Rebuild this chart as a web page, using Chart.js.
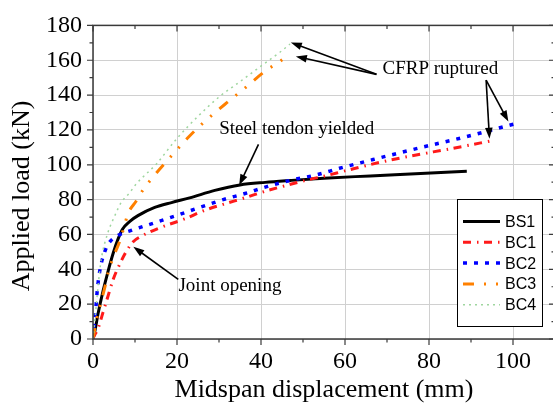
<!DOCTYPE html>
<html>
<head>
<meta charset="utf-8">
<script src="https://cdn.jsdelivr.net/npm/chart.js@4.4.1/dist/chart.umd.min.js"></script>
<style>
  html, body { margin: 0; padding: 0; background: #fff; overflow: hidden; }
  #wrap { width: 560px; height: 409px; }
</style>
</head>
<body>
<div id="wrap"><canvas id="chart" width="560" height="409"></canvas></div>
<script>
// Load vs midspan displacement
const dispBS1 = [0, 0.4, 1.2, 2.4, 3.6, 4.8, 6, 7.1, 8.7, 10.7, 14.7, 18.7, 23, 29, 35, 41, 47, 55, 66, 78, 89];
const loadBS1 = [0, 4, 14.5, 27.6, 39, 49.2, 57.6, 63.3, 67.4, 70.8, 75.5, 78.3, 81, 85.3, 88.4, 89.9, 91, 92.3, 93.6, 95, 96.3];

const dispBC1 = [0, 0.2, 1.2, 2.4, 3.6, 4.8, 6.3, 7.9, 9.5, 11.9, 16.3, 21.8, 26.3, 31, 36.2, 41, 45.8, 50.5, 55.6, 60, 70, 81, 88, 94.5];
const loadBC1 = [0, 1.3, 6, 15.4, 24.8, 34.2, 42.6, 50.1, 55.7, 59.5, 64.2, 68.9, 73.6, 77.3, 81.1, 84.8, 88, 91, 93.8, 96.5, 102.3, 107.4, 110.5, 113.6];

const dispBC2 = [0, 0.2, 0.6, 1, 1.6, 2.8, 3.7, 6, 9.1, 13.9, 19.8, 24.2, 31, 36.2, 41.6, 47.6, 53.2, 58.7, 66.7, 77.9, 89, 100.1];
const loadBC2 = [0, 6.9, 15.4, 27.6, 38.9, 50.1, 54.8, 59.5, 62.3, 66.1, 70.8, 74.5, 80, 83.5, 87.6, 91.4, 94.2, 98, 103, 109.8, 116.2, 123.3];

const dispBC3 = [0, 0.8, 1.8, 2.8, 3.7, 5.2, 6.3, 7.5, 8.3, 10.3, 11.7, 14.4, 19.5, 22.7, 25.9, 31.8, 35.4, 41.3, 44.5, 46.9];
const loadBC3 = [0, 10.7, 20, 29.5, 38.9, 49.2, 55.7, 65.1, 71.7, 79.2, 84.8, 93.3, 107.3, 115.8, 123.3, 135.5, 142.5, 154.3, 159.3, 163.7];

const dispBC4 = [0, 0.5, 1, 1.5, 2, 3.6, 5.2, 6.7, 8.7, 10.3, 15.2, 19.9, 24.7, 30.2, 35, 39.7, 44.5, 46.9];
const loadBC4 = [0, 12, 25, 37, 46.3, 61.4, 70.8, 78.3, 83.9, 89, 100.8, 114.9, 127.1, 139.3, 147.7, 156.1, 164.6, 169.3];

const seriesNames = ['BS1', 'BC1', 'BC2', 'BC3', 'BC4'];
const xTicks = [0, 20, 40, 60, 80, 100];
const yTicks = [0, 20, 40, 60, 80, 100, 120, 140, 160, 180];

const xTitle = 'Midspan displacement (mm)';
const yTitle = 'Applied load (kN)';

// callouts, in data units
const notes = [
    { text: 'CFRP ruptured', x: 82.7, y: 155.2 },
    { text: 'Steel tendon yielded', x: 48.5, y: 120.5 },
    { text: 'Joint opening', x: 32.6, y: 30.4 }
];
const arrows = [
    [67.5, 151.9, 47.1, 170.2],
    [67.5, 151.9, 48.3, 162.2],
    [93.6, 148.6, 94.4, 114.9],
    [93.6, 148.6, 98.9, 124.8],
    [39.4, 111.7, 34.8, 88.2],
    [20.3, 34.2, 9.6, 52.9]
];

const serif = 'Liberation Serif';
const sans = 'Liberation Sans';

Chart.defaults.font.family = serif;
Chart.defaults.color = '#000';

const styles = [
    { color: '#000000', width: 3, dash: [] },
    { color: '#ff1a1a', width: 3, dash: [8, 6, 1.5, 5.5] },
    { color: '#0000ff', width: 3.5, dash: [4, 7] },
    { color: '#ff8000', width: 3, dash: [11, 10, 2, 10, 2, 10] },
    { color: '#9fd69f', width: 1.5, dash: [2, 4] }
];

const allX = [dispBS1, dispBC1, dispBC2, dispBC3, dispBC4];
const allY = [loadBS1, loadBC1, loadBC2, loadBC3, loadBC4];

const datasets = seriesNames.map((name, i) => ({
    label: name,
    data: allX[i].map((x, j) => ({ x: x, y: allY[i][j] })),
    borderColor: styles[i].color,
    borderWidth: styles[i].width,
    borderDash: styles[i].dash,
    borderCapStyle: 'butt',
    pointRadius: 0,
    showLine: true,
    fill: false,
    cubicInterpolationMode: 'monotone',
    order: seriesNames.length - 1 - i
}));

function drawArrow(ctx, x1, y1, x2, y2) {
    const ang = Math.atan2(y2 - y1, x2 - x1);
    const len = 11, half = 3.8;
    ctx.beginPath();
    ctx.moveTo(x1, y1);
    ctx.lineTo(x2 - Math.cos(ang) * len * 0.8, y2 - Math.sin(ang) * len * 0.8);
    ctx.stroke();
    ctx.beginPath();
    ctx.moveTo(x2, y2);
    ctx.lineTo(x2 - Math.cos(ang) * len - Math.sin(ang) * half, y2 - Math.sin(ang) * len + Math.cos(ang) * half);
    ctx.lineTo(x2 - Math.cos(ang) * len + Math.sin(ang) * half, y2 - Math.sin(ang) * len - Math.cos(ang) * half);
    ctx.closePath();
    ctx.fill();
}

const framePlugin = {
    id: 'frame',
    beforeDraw(chart) {
        const ctx = chart.ctx;
        ctx.save();
        ctx.fillStyle = '#fff';
        ctx.fillRect(0, 0, chart.width, chart.height);
        ctx.restore();
    },
    afterDraw(chart) {
        const ctx = chart.ctx;
        const a = chart.chartArea;
        const xs = chart.scales.x, ys = chart.scales.y;
        ctx.save();

        // frame
        ctx.strokeStyle = '#3a3a3a';
        ctx.lineWidth = 1.5;
        ctx.strokeRect(a.left, a.top, a.right - a.left, a.bottom - a.top);

        // ticks: outward on bottom/left, inward on top/right
        ctx.lineWidth = 1.2;
        ctx.beginPath();
        for (let v = 0; v <= xs.max; v += 10) {
            const px = xs.getPixelForValue(v);
            const l = v % 20 === 0 ? 6 : 3.5;
            ctx.moveTo(px, a.bottom); ctx.lineTo(px, a.bottom + l);
            ctx.moveTo(px, a.top); ctx.lineTo(px, a.top + l);
        }
        for (let v = 0; v <= ys.max; v += 10) {
            const py = ys.getPixelForValue(v);
            const l = v % 20 === 0 ? 6 : 3.5;
            ctx.moveTo(a.left, py); ctx.lineTo(a.left - l, py);
            ctx.moveTo(a.right, py); ctx.lineTo(a.right - l, py);
        }
        ctx.stroke();

        // axis titles
        ctx.fillStyle = '#000';
        ctx.font = '26px "' + serif + '"';
        ctx.textAlign = 'center';
        ctx.textBaseline = 'middle';
        ctx.fillText(xTitle, (a.left + a.right) / 2, 390);
        ctx.save();
        ctx.translate(22, 196);
        ctx.rotate(-Math.PI / 2);
        ctx.fillText(yTitle, 0, 0);
        ctx.restore();

        // callouts
        ctx.font = '19px "' + serif + '"';
        notes.forEach(n => {
            ctx.fillText(n.text, xs.getPixelForValue(n.x), ys.getPixelForValue(n.y));
        });
        ctx.strokeStyle = '#000';
        ctx.fillStyle = '#000';
        ctx.lineWidth = 1.6;
        arrows.forEach(r => {
            drawArrow(ctx, xs.getPixelForValue(r[0]), ys.getPixelForValue(r[1]),
                xs.getPixelForValue(r[2]), ys.getPixelForValue(r[3]));
        });

        // legend box
        const bx = 457, by = 199, bw = 85, bh = 127;
        ctx.fillStyle = '#fff';
        ctx.fillRect(bx, by, bw, bh);
        ctx.strokeStyle = '#000';
        ctx.lineWidth = 1;
        ctx.strokeRect(bx + 0.5, by + 0.5, bw, bh);
        ctx.font = '16px "' + sans + '"';
        ctx.textAlign = 'left';
        seriesNames.forEach((name, i) => {
            const ry = by + 22.5 + i * 20.8;
            ctx.strokeStyle = styles[i].color;
            ctx.lineWidth = styles[i].width;
            ctx.setLineDash(styles[i].dash);
            ctx.beginPath();
            ctx.moveTo(bx + 6, ry);
            ctx.lineTo(bx + 43, ry);
            ctx.stroke();
            ctx.setLineDash([]);
            ctx.fillStyle = '#000';
            ctx.fillText(name, bx + 48, ry + 1);
        });
        ctx.restore();
    }
};

new Chart(document.getElementById('chart'), {
    type: 'scatter',
    data: { datasets: datasets },
    options: {
        responsive: false,
        animation: false,
        layout: { padding: { top: 19, right: 5, left: 0, bottom: 0 } },
        plugins: { legend: { display: false }, tooltip: { enabled: false } },
        scales: {
            x: {
                type: 'linear', min: 0, max: 110,
                afterBuildTicks: s => { s.ticks = xTicks.map(v => ({ value: v })); },
                afterFit: s => { s.height = 70; },
                grid: { color: '#d0d0d0', lineWidth: 1, drawTicks: false },
                border: { display: false },
                ticks: { color: '#000', padding: 8, font: { family: serif, size: 24 } }
            },
            y: {
                type: 'linear', min: 0, max: 180,
                afterBuildTicks: s => { s.ticks = yTicks.map(v => ({ value: v })); },
                afterFit: s => { s.width = 93; },
                grid: { color: '#d0d0d0', lineWidth: 1, drawTicks: false },
                border: { display: false },
                ticks: { color: '#000', padding: 11, font: { family: serif, size: 24 } }
            }
        }
    },
    plugins: [framePlugin]
});
</script>
</body>
</html>
